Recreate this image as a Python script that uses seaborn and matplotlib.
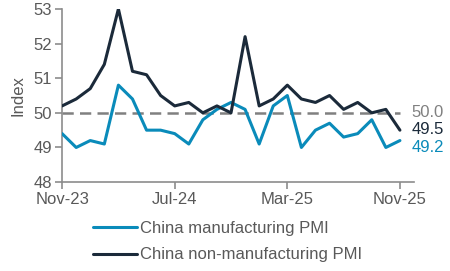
import matplotlib
matplotlib.use("Agg")
import matplotlib.pyplot as plt
import seaborn as sns
import pandas as pd

months = ["Nov-23","Dec-23","Jan-24","Feb-24","Mar-24","Apr-24","May-24","Jun-24","Jul-24",
          "Aug-24","Sep-24","Oct-24","Nov-24","Dec-24","Jan-25","Feb-25","Mar-25","Apr-25",
          "May-25","Jun-25","Jul-25","Aug-25","Sep-25","Oct-25","Nov-25"]
manufacturing = [49.4,49.0,49.2,49.1,50.8,50.4,49.5,49.5,49.4,49.1,49.8,50.1,50.3,50.1,
                 49.1,50.2,50.5,49.0,49.5,49.7,49.3,49.4,49.8,49.0,49.2]
non_manufacturing = [50.2,50.4,50.7,51.4,53.0,51.2,51.1,50.5,50.2,50.3,50.0,50.2,50.0,52.2,
                     50.2,50.4,50.8,50.4,50.3,50.5,50.1,50.3,50.0,50.1,49.5]
tick_labels = ["Nov-23","Jul-24","Mar-25","Nov-25"]
series_names = ["China manufacturing PMI","China non-manufacturing PMI"]
threshold = 50.0

BLUE = "#0a8bba"
NAVY = "#1b2a3a"
GREY = "#595959"

sns.set_theme(style="white")
plt.rcParams['font.family'] = ['Liberation Sans', 'DejaVu Sans']

df = pd.DataFrame({
    "idx": list(range(len(months))) * 2,
    "value": manufacturing + non_manufacturing,
    "series": [series_names[0]] * len(months) + [series_names[1]] * len(months),
})

fig = plt.figure(figsize=(4.5, 2.71), dpi=100)
ax = fig.add_axes([0.138, 0.328, 0.782, 0.639])

last = len(months) - 1
ax.plot([0, last], [threshold, threshold], color="#808080", lw=1.8, ls=(0, (4.5, 2.5)), zorder=1)
sns.lineplot(data=df, x="idx", y="value", hue="series", palette=[BLUE, NAVY],
             lw=2.2, ax=ax, legend=True, zorder=3)

ax.set_xlim(0, 25)
ax.set_ylim(48, 53)
ticks = [months.index(t) for t in tick_labels]
ax.set_xticks(ticks)
ax.set_xticklabels(tick_labels)
ax.set_yticks([48, 49, 50, 51, 52, 53])
ax.set_xlabel("")
ax.set_ylabel("Index", color=GREY, fontsize=12, labelpad=6)

for s in ["top", "right"]:
    ax.spines[s].set_visible(False)
for s in ["left", "bottom"]:
    ax.spines[s].set_color("#8c8c8c")
    ax.spines[s].set_linewidth(1.2)
ax.tick_params(axis="both", colors="#8c8c8c", labelcolor=GREY, labelsize=12,
               direction="out", length=5, width=1.2, left=True, bottom=True, pad=2)

ax.text(last + 0.8, 50.0, f"{threshold:.1f}", color="#808080", fontsize=12, va="center", ha="left", clip_on=False)
ax.text(last + 0.8, 49.53, f"{non_manufacturing[-1]:.1f}", color=NAVY, fontsize=12, va="center", ha="left", clip_on=False)
ax.text(last + 0.8, 49.0, f"{manufacturing[-1]:.1f}", color=BLUE, fontsize=12, va="center", ha="left", clip_on=False)

handles, labels = ax.get_legend_handles_labels()
ax.legend(handles, labels, loc="upper left", bbox_to_anchor=(0.07, -0.185),
          bbox_transform=ax.transAxes, frameon=False, fontsize=12,
          handlelength=2.6, handletextpad=0.2, labelspacing=0.7, labelcolor=GREY,
          borderaxespad=0)

fig.savefig("out.png", dpi=100)
